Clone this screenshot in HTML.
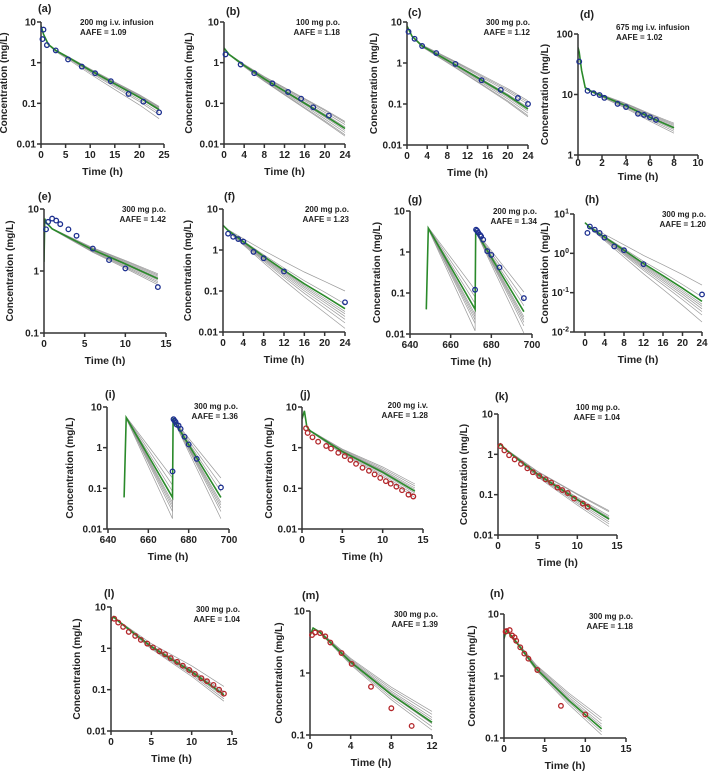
<!DOCTYPE html>
<html><head><meta charset="utf-8">
<style>
html,body{margin:0;padding:0;background:#fff;}
svg{display:block;font-family:"Liberation Sans",Arial,sans-serif;font-weight:bold;}
</style></head>
<body>
<svg id="fig" width="709" height="772" viewBox="0 0 709 772" xmlns="http://www.w3.org/2000/svg"></svg>
<script>
// ---- data (time h, concentration mg/L) ----
const simA=[[0,8],[0.5,5],[1.5,2.8],[3,2.0],[6,1.25],[10,0.65],[15,0.3],[20,0.14],[24,0.07]];
const obsA=[[0.3,3.8],[0.5,6.5],[1.2,2.7],[3,2.0],[5.5,1.2],[8.3,0.8],[11,0.55],[14.2,0.35],[17.8,0.17],[20.8,0.11],[24,0.06]];
const grayA=[0.6,0.75,0.85,0.95,1.05,1.1,1.15,1.2];
const simB=[[0,2.3],[1,1.6],[4,0.85],[8,0.4],[12,0.2],[16,0.1],[20,0.05],[24,0.024]];
const obsB=[[0.3,1.6],[3.3,0.9],[6,0.55],[9.6,0.31],[12.7,0.19],[15.3,0.13],[17.7,0.08],[20.8,0.05]];
const grayB=[0.65,0.7,0.8,0.9,1.1,1.25,1.4,1.5];
const simC=[[0,8],[1,4.5],[3,2.6],[6,1.6],[10,0.85],[15,0.37],[20,0.16],[24,0.075]];
const obsC=[[0.3,5.8],[1.5,3.9],[3,2.6],[5.8,1.75],[9.6,0.95],[14.8,0.38],[18.6,0.22],[22,0.14],[24,0.1]];
const grayC=[0.65,0.7,0.8,0.9,1.1,1.3,1.45,1.6];
const simD=[[0,60],[0.1,50],[0.3,25],[0.6,13],[1,11.5],[2,9.5],[4,6.5],[6,4.2],[8,2.8]];
const obsD=[[0.1,35],[0.8,11.5],[1.3,10.5],[1.8,9.8],[2.2,8.8],[3.3,7],[4,6.2],[5,4.8],[5.5,4.6],[6,4.2],[6.5,3.8]];
const grayD=[0.82,0.88,0.94,1.05,1.1,1.15,1.2];
const simE=[[0,1.4],[0.1,7],[0.3,6],[1,4.8],[3,3.5],[6,2.2],[10,1.3],[14,0.75]];
const obsE=[[0.25,4.7],[0.5,6.2],[1,7],[1.5,6.5],[2,5.7],[3,4.7],[4,3.7],[6,2.3],[8,1.5],[10,1.1],[14,0.55]];
const grayE=[0.8,0.85,0.9,0.95,1.05,1.1,1.15,1.2];
const simF=[[0,4],[1,3],[4,1.6],[8,0.7],[12,0.32],[16,0.15],[20,0.075],[24,0.037]];
const obsF=[[1,2.5],[2,2.1],[3,1.85],[4,1.6],[6,0.9],[8,0.63],[12,0.3],[24,0.053]];
const grayF=[0.33,0.45,0.55,0.65,0.75,0.85,1.3,2.7];
const simG=[[648,0.04],[649,3.8],[672,0.04],[672.3,3.2],[696,0.035]];
const obsG=[[672,0.12],[672.5,3.5],[673,3.3],[673.5,3],[674.5,2.6],[675,2.4],[676,2.0],[678,1.05],[680,0.85],[684,0.42],[696,0.075]];
const grayG=[0.3,0.45,0.55,0.65,0.75,1.4,2.0,3.0];
const simH=[[0,6],[1,4.6],[4,2.6],[8,1.2],[12,0.55],[16,0.27],[20,0.13],[24,0.06]];
const obsH=[[0.5,3.3],[1,4.8],[2,4],[3,3.3],[4,2.5],[6,1.5],[8,1.2],[12,0.53],[24,0.09]];
const grayH=[0.3,0.45,0.55,0.65,0.75,0.85,1.3,2.6];
const simI=[[648,0.06],[649,5.5],[672,0.06],[672.3,5],[696,0.06]];
const obsI=[[672,0.26],[672.5,5],[673,4.6],[673.5,4.3],[674,3.7],[675,3.5],[676,2.9],[678,1.85],[680,1.2],[684,0.53],[696,0.105]];
const grayI=[0.3,0.45,0.55,0.65,0.75,1.4,2.0,3.0];
const simJ=[[0,5],[0.3,8],[0.6,3.3],[1,2.6],[5,0.8],[10,0.25],[14,0.085]];
const obsJ=[[0.5,3],[0.7,2.3],[1.3,1.8],[2,1.4],[3,1.1],[3.6,0.95],[4.5,0.75],[5.3,0.62],[6,0.5],[6.7,0.4],[7.5,0.32],[8.3,0.27],[9,0.22],[9.7,0.18],[10.4,0.15],[11,0.13],[11.7,0.11],[12.4,0.09],[13.2,0.07],[13.8,0.063]];
const grayJ=[0.7,0.8,0.9,1.1,1.2,1.35,1.5];
const simK=[[0,1.5],[0.3,1.8],[1,1.3],[5,0.32],[10,0.075],[14,0.025]];
const obsK=[[0.3,1.6],[0.8,1.25],[1.4,0.95],[2.1,0.75],[2.9,0.58],[3.7,0.45],[4.4,0.36],[5.2,0.29],[6,0.24],[6.7,0.2],[7.5,0.15],[8.1,0.13],[8.8,0.11],[9.6,0.08],[10.7,0.06],[11.3,0.05]];
const grayK=[0.65,0.75,0.85,0.95,1.1,1.2,1.5,1.6];
const simL=[[0,4.5],[0.3,5.8],[1,4.4],[5,1.1],[10,0.27],[14,0.075]];
const obsL=[[0.4,5.2],[0.9,4.2],[1.5,3.3],[2.2,2.5],[3,2],[3.7,1.6],[4.5,1.3],[5.2,1.05],[6,0.85],[6.7,0.72],[7.4,0.58],[8.2,0.47],[8.9,0.38],[9.7,0.3],[10.4,0.24],[11.2,0.19],[11.9,0.16],[12.7,0.13],[13.4,0.1],[14,0.08]];
const grayL=[0.7,0.8,0.9,1.0,1.1,1.2,1.6];
const simM=[[0,4],[0.3,5.3],[1,4.5],[4,1.5],[8,0.45],[12,0.16]];
const obsM=[[0.2,4.1],[0.5,4.5],[1,4.4],[1.5,3.9],[2,3.1],[3.1,2.1],[4.1,1.4],[6,0.6],[8,0.27],[10,0.14]];
const grayM=[0.75,0.85,0.95,1.1,1.2,1.35,1.5];
const simN=[[0,4],[0.3,5.5],[1,4.3],[4,1.3],[8,0.4],[12,0.14]];
const obsN=[[0.2,5.2],[0.3,5.3],[0.7,5.5],[1,4.5],[1.3,4.2],[1.5,3.7],[2,2.9],[2.5,2.3],[3,1.9],[4.1,1.25],[7,0.33],[10,0.24]];
const grayN=[0.8,0.9,1.0,1.1,1.2,1.35,1.5];
const ticksX15=[0,5,10,15], ticksX24=[0,4,8,12,16,20,24], ticksX25=[0,5,10,15,20,25], ticksX10=[0,2,4,6,8,10], ticksX700=[640,660,680,700], ticksX12=[0,4,8,12];

// ---- layout ----
const NS="http://www.w3.org/2000/svg";
const fig=document.getElementById('fig');
function el(tag,attrs,parent){const e=document.createElementNS(NS,tag);for(const k in attrs)e.setAttribute(k,attrs[k]);(parent||fig).appendChild(e);return e;}
const panels=[
 {id:'a',sim:simA,obs:obsA,gray:grayA,col:'blue',xt:ticksX25,tmin:0,tmax:25,x0:41,x1:164,yt:22,yb:144,cmin:0.01,cmax:10,lx:38,ly:12,ylx:7,ann:['200 mg i.v. infusion','AAFE = 1.09'],annx:80,anny:25,anchor:'start'},
 {id:'b',sim:simB,obs:obsB,gray:grayB,col:'blue',xt:ticksX24,tmin:0,tmax:24,x0:224,x1:345,yt:22,yb:144,cmin:0.01,cmax:10,lx:226,ly:15,ylx:192,ann:['100 mg p.o.','AAFE = 1.18'],annx:340,anny:25,anchor:'end'},
 {id:'c',sim:simC,obs:obsC,gray:grayC,col:'blue',xt:ticksX24,tmin:0,tmax:24,x0:407,x1:528,yt:22,yb:145,cmin:0.01,cmax:10,lx:408,ly:16,ylx:377,ann:['300 mg p.o.','AAFE = 1.12'],annx:530,anny:25,anchor:'end'},
 {id:'d',sim:simD,obs:obsD,gray:grayD,col:'blue',xt:ticksX10,tmin:0,tmax:10,x0:578,x1:698,yt:34,yb:155,cmin:1,cmax:100,lx:580,ly:18,ylx:548,ann:['675 mg i.v. infusion','AAFE = 1.02'],annx:616,anny:30,anchor:'start',xtitleY:180,xlabY:166},
 {id:'e',sim:simE,obs:obsE,gray:grayE,col:'blue',xt:ticksX15,tmin:0,tmax:15,x0:44,x1:166,yt:209,yb:333,cmin:0.1,cmax:10,lx:38,ly:200,ylx:13,ann:['300 mg p.o.','AAFE = 1.42'],annx:166,anny:212,anchor:'end'},
 {id:'f',sim:simF,obs:obsF,gray:grayF,col:'blue',xt:ticksX24,tmin:0,tmax:24,x0:223,x1:345,yt:209,yb:332,cmin:0.01,cmax:10,lx:224,ly:200,ylx:191,ann:['200 mg p.o.','AAFE = 1.23'],annx:349,anny:212,anchor:'end'},
 {id:'g',sim:simG,obs:obsG,gray:grayG,col:'blue',xt:ticksX700,tmin:640,tmax:700,x0:410,x1:532,yt:211,yb:334,cmin:0.01,cmax:10,lx:408,ly:203,ylx:380,ann:['200 mg p.o.','AAFE = 1.34'],annx:537,anny:214,anchor:'end',doses:[648,672]},
 {id:'h',sim:simH,obs:obsH,gray:grayH,col:'blue',xt:ticksX24,tmin:0,tmax:24,x0:585,x1:702,ax:574,yt:214,yb:332,cmin:0.01,cmax:10,lx:585,ly:203,ylx:548,ann:['300 mg p.o.','AAFE = 1.20'],annx:706,anny:217,anchor:'end',pow:true},
 {id:'i',sim:simI,obs:obsI,gray:grayI,col:'blue',xt:ticksX700,tmin:640,tmax:700,x0:108,x1:229,ax:107,yt:407,yb:529,cmin:0.01,cmax:10,lx:105,ly:398,ylx:73,ann:['300 mg p.o.','AAFE = 1.36'],annx:238,anny:409,anchor:'end',doses:[648,672]},
 {id:'j',sim:simJ,obs:obsJ,gray:grayJ,col:'red',xt:ticksX15,tmin:0,tmax:15,x0:302,x1:423,yt:407,yb:529,cmin:0.01,cmax:10,lx:300,ly:398,ylx:272,ann:['200 mg i.v.','AAFE = 1.28'],annx:428,anny:408,anchor:'end'},
 {id:'k',sim:simK,obs:obsK,gray:grayK,col:'red',xt:ticksX15,tmin:0,tmax:15,x0:498,x1:617,yt:414,yb:535,cmin:0.01,cmax:10,lx:495,ly:400,ylx:467,ann:['100 mg p.o.','AAFE = 1.04'],annx:620,anny:410,anchor:'end'},
 {id:'l',sim:simL,obs:obsL,gray:grayL,col:'red',xt:ticksX15,tmin:0,tmax:15,x0:111,x1:232,yt:607,yb:731,cmin:0.01,cmax:10,lx:104,ly:597,ylx:80,ann:['300 mg p.o.','AAFE = 1.04'],annx:240,anny:612,anchor:'end'},
 {id:'m',sim:simM,obs:obsM,gray:grayM,col:'red',xt:ticksX12,tmin:0,tmax:12,x0:310,x1:432,yt:611,yb:735,cmin:0.1,cmax:10,lx:302,ly:599,ylx:282,ann:['300 mg p.o.','AAFE = 1.39'],annx:438,anny:617,anchor:'end'},
 {id:'n',sim:simN,obs:obsN,gray:grayN,col:'red',xt:ticksX15,tmin:0,tmax:15,x0:504,x1:626,yt:614,yb:738,cmin:0.1,cmax:10,lx:490,ly:597,ylx:475,ann:['300 mg p.o.','AAFE = 1.18'],annx:633,anny:619,anchor:'end'}
];
const AX='#333';
panels.forEach(p=>{
  const g=el('g',{});
  
  
  const lmax=Math.log10(p.cmax), lmin=Math.log10(p.cmin);
  const xs=t=>p.x0+(t-p.tmin)/(p.tmax-p.tmin)*(p.x1-p.x0);
  const ys=c=>p.yt+(lmax-Math.log10(Math.max(c,p.cmin)))/(lmax-lmin)*(p.yb-p.yt);
  const ax=p.ax!==undefined?p.ax:p.x0;
  const cp=el('clipPath',{id:'clip'+p.id},g);
  el('rect',{x:ax,y:p.yt-6,width:p.x1-ax+4,height:p.yb-p.yt+6},cp);
  const plot=el('g',{'clip-path':'url(#clip'+p.id+')'},g);
  const doses=p.doses||[p.sim[0][0]];
  const tEnd=p.sim[p.sim.length-1][0];
  function frac(t){let s=-1;for(let i=0;i<doses.length;i++){if(t>doses[i])s=i;}if(s<0)return 0;const a=doses[s],b=s+1<doses.length?doses[s+1]:tEnd;return Math.min(1,(t-a)/(b-a));}
  p.gray.forEach((r,i)=>{
    const d=p.sim.map(([t,c],k)=>(k?'L':'M')+xs(t).toFixed(1)+','+ys(c*Math.pow(r,frac(t))).toFixed(1)).join('');
    const ln=el('path',{d:d,fill:'none',stroke:'#9a9a9a','stroke-width':0.7},plot);
    
    
  });
  const gd=p.sim.map(([t,c],k)=>(k?'L':'M')+xs(t).toFixed(1)+','+ys(c).toFixed(1)).join('');
  const gl=el('path',{d:gd,fill:'none',stroke:'#2a8a2a','stroke-width':1.6},plot);
  
  
  const axes=el('g',{stroke:AX,'stroke-width':1.5,fill:'none'},g);
  el('line',{x1:ax,y1:p.yt,x2:ax,y2:p.yb},axes);
  el('line',{x1:ax,y1:p.yb,x2:p.x1,y2:p.yb},axes);
  const lab=el('g',{fill:'#222','font-size':10},g);
  for(let e=Math.round(lmin);e<=Math.round(lmax);e++){
    const c=Math.pow(10,e), y=ys(c);
    el('line',{x1:ax-4,y1:y,x2:ax,y2:y},axes);
    const tx=el('text',{x:ax-5,y:y+3.5,'text-anchor':'end'},lab);
    
    
    if(p.pow){tx.textContent='10';const s=el('tspan',{dy:-4,'font-size':7},tx);s.textContent=String(e);}
    else tx.textContent=c>=1?String(c):String(+c.toFixed(2));
  }
  p.xt.forEach(t=>{
    const x=xs(t);
    el('line',{x1:x,y1:p.yb,x2:x,y2:p.yb+4},axes);
    const tx=el('text',{x:x,y:p.xlabY||(p.yb+14),'text-anchor':'middle'},lab);
    
    
    tx.textContent=String(t);
  });
  const xt=el('text',{x:(ax+p.x1)/2,y:p.xtitleY||(p.yb+31),'text-anchor':'middle','font-size':10.5,fill:'#222'},g);
  
  
  xt.textContent='Time (h)';
  const cy=(p.yt+p.yb)/2;
  const yt=el('text',{x:p.ylx,y:cy,'text-anchor':'middle','font-size':10,fill:'#222',transform:'rotate(-90 '+p.ylx+' '+cy+')'},g);
  
  
  yt.textContent='Concentration (mg/L)';
  const pl=el('text',{x:p.lx,y:p.ly,'font-size':11,fill:'#222'},g);
  
  
  pl.textContent='('+p.id+')';
  p.ann.forEach((s,i)=>{
    const a=el('text',{x:p.annx,y:p.anny+i*10,'font-size':8,'text-anchor':p.anchor,fill:'#222'},g);
    
    
    a.textContent=s;
  });
  const stroke=p.col==='blue'?'#1c2f8f':'#b3262a';
  p.obs.forEach(([t,c])=>{
    const pt=el('circle',{cx:xs(t),cy:ys(c),r:2.3,fill:'none',stroke:stroke,'stroke-width':1.3},g);
    
    
  });
});
</script>
</body></html>
